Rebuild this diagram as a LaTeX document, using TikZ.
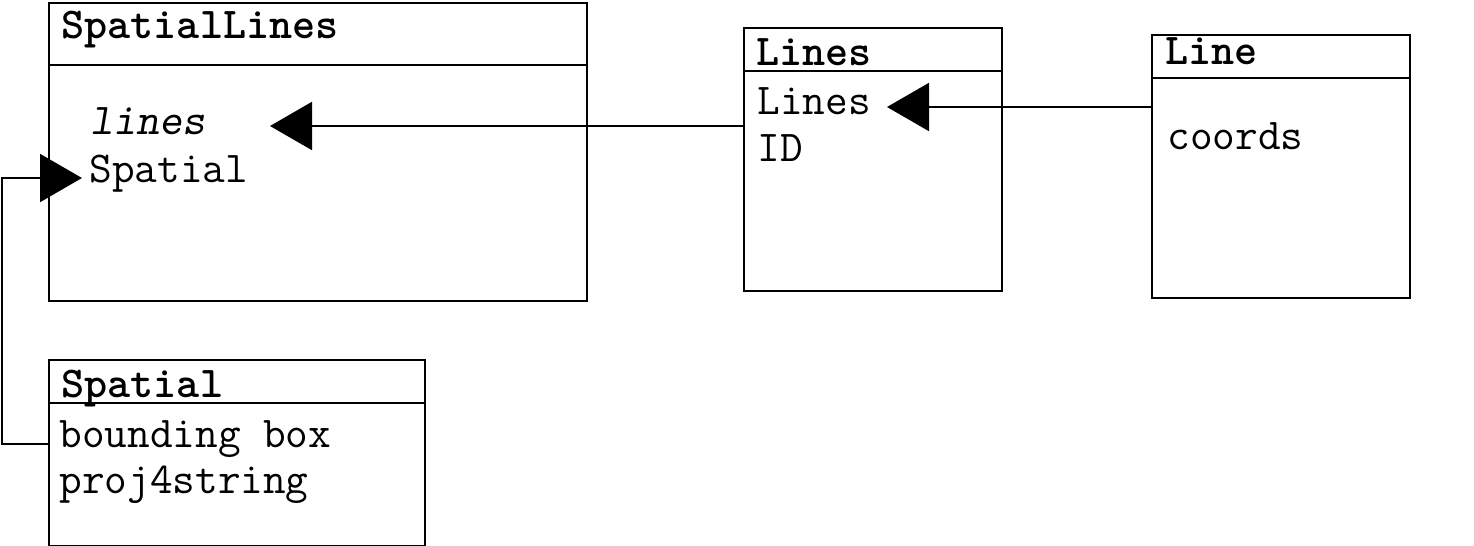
\documentclass[tikz,border=0pt]{standalone}
\usepackage{fontspec}
\usetikzlibrary{arrows.meta}
\begin{document}
\begin{tikzpicture}[x=0.5pt,y=-0.5pt,
  cls/.style={draw, line width=1pt, anchor=north west, inner sep=0pt, rectangle},
  ttl/.style={anchor=base west, inner sep=0pt, font=\ttfamily\bfseries\fontsize{22}{24}\selectfont},
  attr/.style={anchor=base west, inner sep=0pt, font=\ttfamily\fontsize{22}{24}\selectfont},
  conn/.style={line width=1pt, -{Triangle[length=21pt,width=24pt]}},
  sep/.style={line width=1pt}]
\useasboundingbox (0,0) rectangle (1474,546);
% boxes
\node[cls, minimum width=269pt, minimum height=149pt] (SL) at (48,2) {};
\node[cls, minimum width=129pt, minimum height=131.5pt] (LS) at (743,27) {};
\node[cls, minimum width=129pt, minimum height=131.5pt] (L) at (1151,34) {};
\node[cls, minimum width=188pt, minimum height=93pt] (SP) at (48,359) {};
% dividers
\draw[sep] (SL.west |- 0,65) -- (SL.east |- 0,65);
\draw[sep] (LS.west |- 0,71) -- (LS.east |- 0,71);
\draw[sep] (L.west |- 0,78) -- (L.east |- 0,78);
\draw[sep] (SP.west |- 0,403) -- (SP.east |- 0,403);
% titles
\node[ttl] (t1) at (61,39) {SpatialLines};
\node[ttl] (t2) at (756,65) {Lines};
\node[ttl] (t3) at (1165,64) {Line};
\node[ttl] (t4) at (61,397) {Spatial};
% attributes
\node[attr, font=\ttfamily\slshape\fontsize{22}{24}\selectfont] (a1) at (90,134) {lines};
\node[attr] (a2) at (89,182) {Spatial};
\node[attr] (a3) at (757,114) {Lines};
\node[attr] (a4) at (757,161) {ID};
\node[attr] (a5) at (1167,149) {coords};
\node[attr] (a6) at (59,447) {bounding box};
\node[attr] (a7) at (59,493) {proj4string};
% connectors
\coordinate (tip1) at (270,126);
\coordinate (tip2) at (887,107);
\coordinate (tip3) at (82,178);
\draw[conn] (LS.west |- 0,126) -- (tip1);
\draw[conn] (L.west |- 0,107) -- (tip2);
\draw[conn] (SP.west |- 0,444) -| (2,300) |- (tip3);
\end{tikzpicture}
\end{document}
